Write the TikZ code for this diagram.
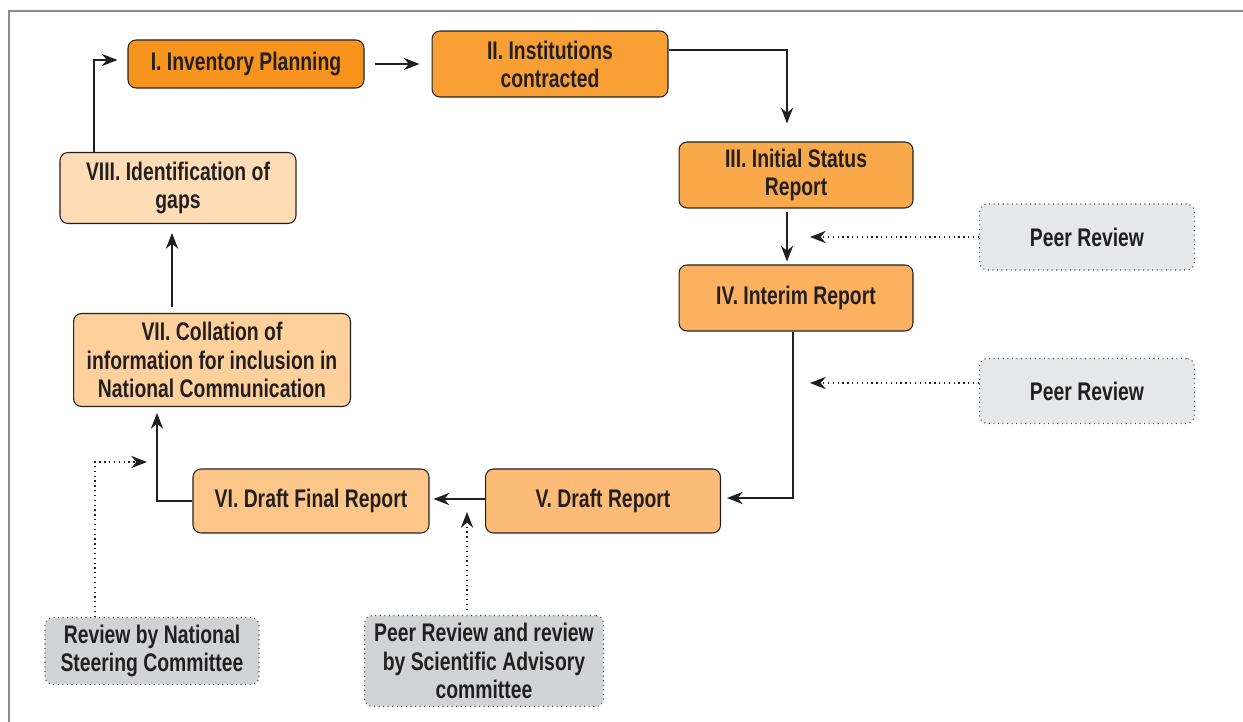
\documentclass[tikz,border=0pt]{standalone}
\usepackage{fontspec}
\setmainfont{Liberation Sans}[FakeStretch=0.76]
\usetikzlibrary{arrows.meta}
\definecolor{stageA}{HTML}{F7941E}
\definecolor{stageB}{HTML}{F9A035}
\definecolor{stageC}{HTML}{F9A94A}
\definecolor{stageD}{HTML}{FBB160}
\definecolor{stageE}{HTML}{FCBB76}
\definecolor{stageF}{HTML}{FDC689}
\definecolor{stageG}{HTML}{FED09C}
\definecolor{stageH}{HTML}{FEDDB6}
\definecolor{reviewA}{HTML}{E6E7E8}
\definecolor{reviewB}{HTML}{D1D3D4}
\definecolor{ink}{HTML}{231F20}
\tikzset{
  stage/.style={draw=ink, line width=0.6pt, rounded corners=0.16cm, inner sep=0pt,
    align=center, text=ink, font=\fontsize{14.5}{16}\selectfont\bfseries},
  reviewer/.style={stage, draw=ink!80, dotted, line width=0.6pt},
  flow/.style={draw=ink, line width=0.75pt, -{Stealth[length=9pt,width=7pt]}},
  feedback/.style={draw=ink, dotted, line width=0.75pt, -{Stealth[length=9pt,width=7pt]}}
}
\begin{document}
\begin{tikzpicture}[x=0.02cm,y=-0.02cm]
  \useasboundingbox (0,0) rectangle (1243,722);
  \draw[black!45, line width=0.9pt] (9,722) -- (9,11) -- (1243,11);
  % cycle of stages
  \node[stage, fill=stageA, minimum width=4.72cm, minimum height=0.96cm] (plan) at (246,64) {I. Inventory Planning};
  \node[stage, fill=stageB, minimum width=4.72cm, minimum height=1.32cm] (contract) at (550,64) {II. Institutions\\contracted};
  \node[stage, fill=stageC, minimum width=4.68cm, minimum height=1.32cm] (status) at (796,175) {III. Initial Status\\Report};
  \node[stage, fill=stageD, minimum width=4.68cm, minimum height=1.32cm] (interim) at (796,298) {IV. Interim Report};
  \node[stage, fill=stageE, minimum width=4.70cm, minimum height=1.28cm] (draft) at (603,501) {V. Draft Report};
  \node[stage, fill=stageF, minimum width=4.72cm, minimum height=1.28cm] (final) at (311,501) {VI. Draft Final Report};
  \node[stage, fill=stageG, minimum width=5.54cm, minimum height=1.86cm] (collate) at (212,360) {VII. Collation of\\information for inclusion in\\National Communication};
  \node[stage, fill=stageH, minimum width=4.72cm, minimum height=1.42cm] (gaps) at (178,188) {VIII. Identification of\\gaps};
  % reviews
  \node[reviewer, fill=reviewA, minimum width=4.30cm, minimum height=1.32cm] (peerA) at (1087,237) {Peer Review};
  \node[reviewer, fill=reviewA, minimum width=4.30cm, minimum height=1.30cm] (peerB) at (1087,391) {Peer Review};
  \node[reviewer, fill=reviewB, minimum width=4.28cm, minimum height=1.34cm] (steer) at (152,651) {Review by National\\Steering Committee};
  \node[reviewer, fill=reviewB, minimum width=4.78cm, minimum height=1.82cm] (advisory) at (484,661) {Peer Review and review\\by Scientific Advisory\\committee};
  \coordinate (inA) at (810,237);
  \coordinate (inB) at (810,383);
  \coordinate (inC) at (467,512);
  \coordinate (inD) at (147,462);
  % arrows
  \draw[flow] ([shift={(-84,0)}]gaps.north) |- ([shift={(-10,-4)}]plan.west);
  \draw[flow] ([shift={(10,0)}]plan.east) -- ([shift={(-12,0)}]contract.west);
  \draw[flow] ([shift={(0,-14)}]contract.east) -| ([shift={(-9,-18)}]status.north);
  \draw[flow] ([shift={(-9,3)}]status.south) -- ([shift={(-9,-3)}]interim.north);
  \draw[flow] ([shift={(-3,0)}]interim.south) |- ([shift={(6,-3)}]draft.east);
  \draw[flow] ([shift={(0,-2)}]draft.west) -- ([shift={(4,-2)}]final.east);
  \draw[flow] (final.west) -| ([shift={(-55,6)}]collate.south);
  \draw[flow] ([shift={(-40,-6)}]collate.north) -- ([shift={(-6,9)}]gaps.south);
  \draw[feedback] (peerA.west) -- (inA);
  \draw[feedback] ([shift={(0,-8)}]peerB.west) -- (inB);
  \draw[feedback] ([shift={(-17,-5)}]advisory.north) -- (inC);
  \draw[feedback] ([shift={(-57,0)}]steer.north) |- (inD);
\end{tikzpicture}
\end{document}
